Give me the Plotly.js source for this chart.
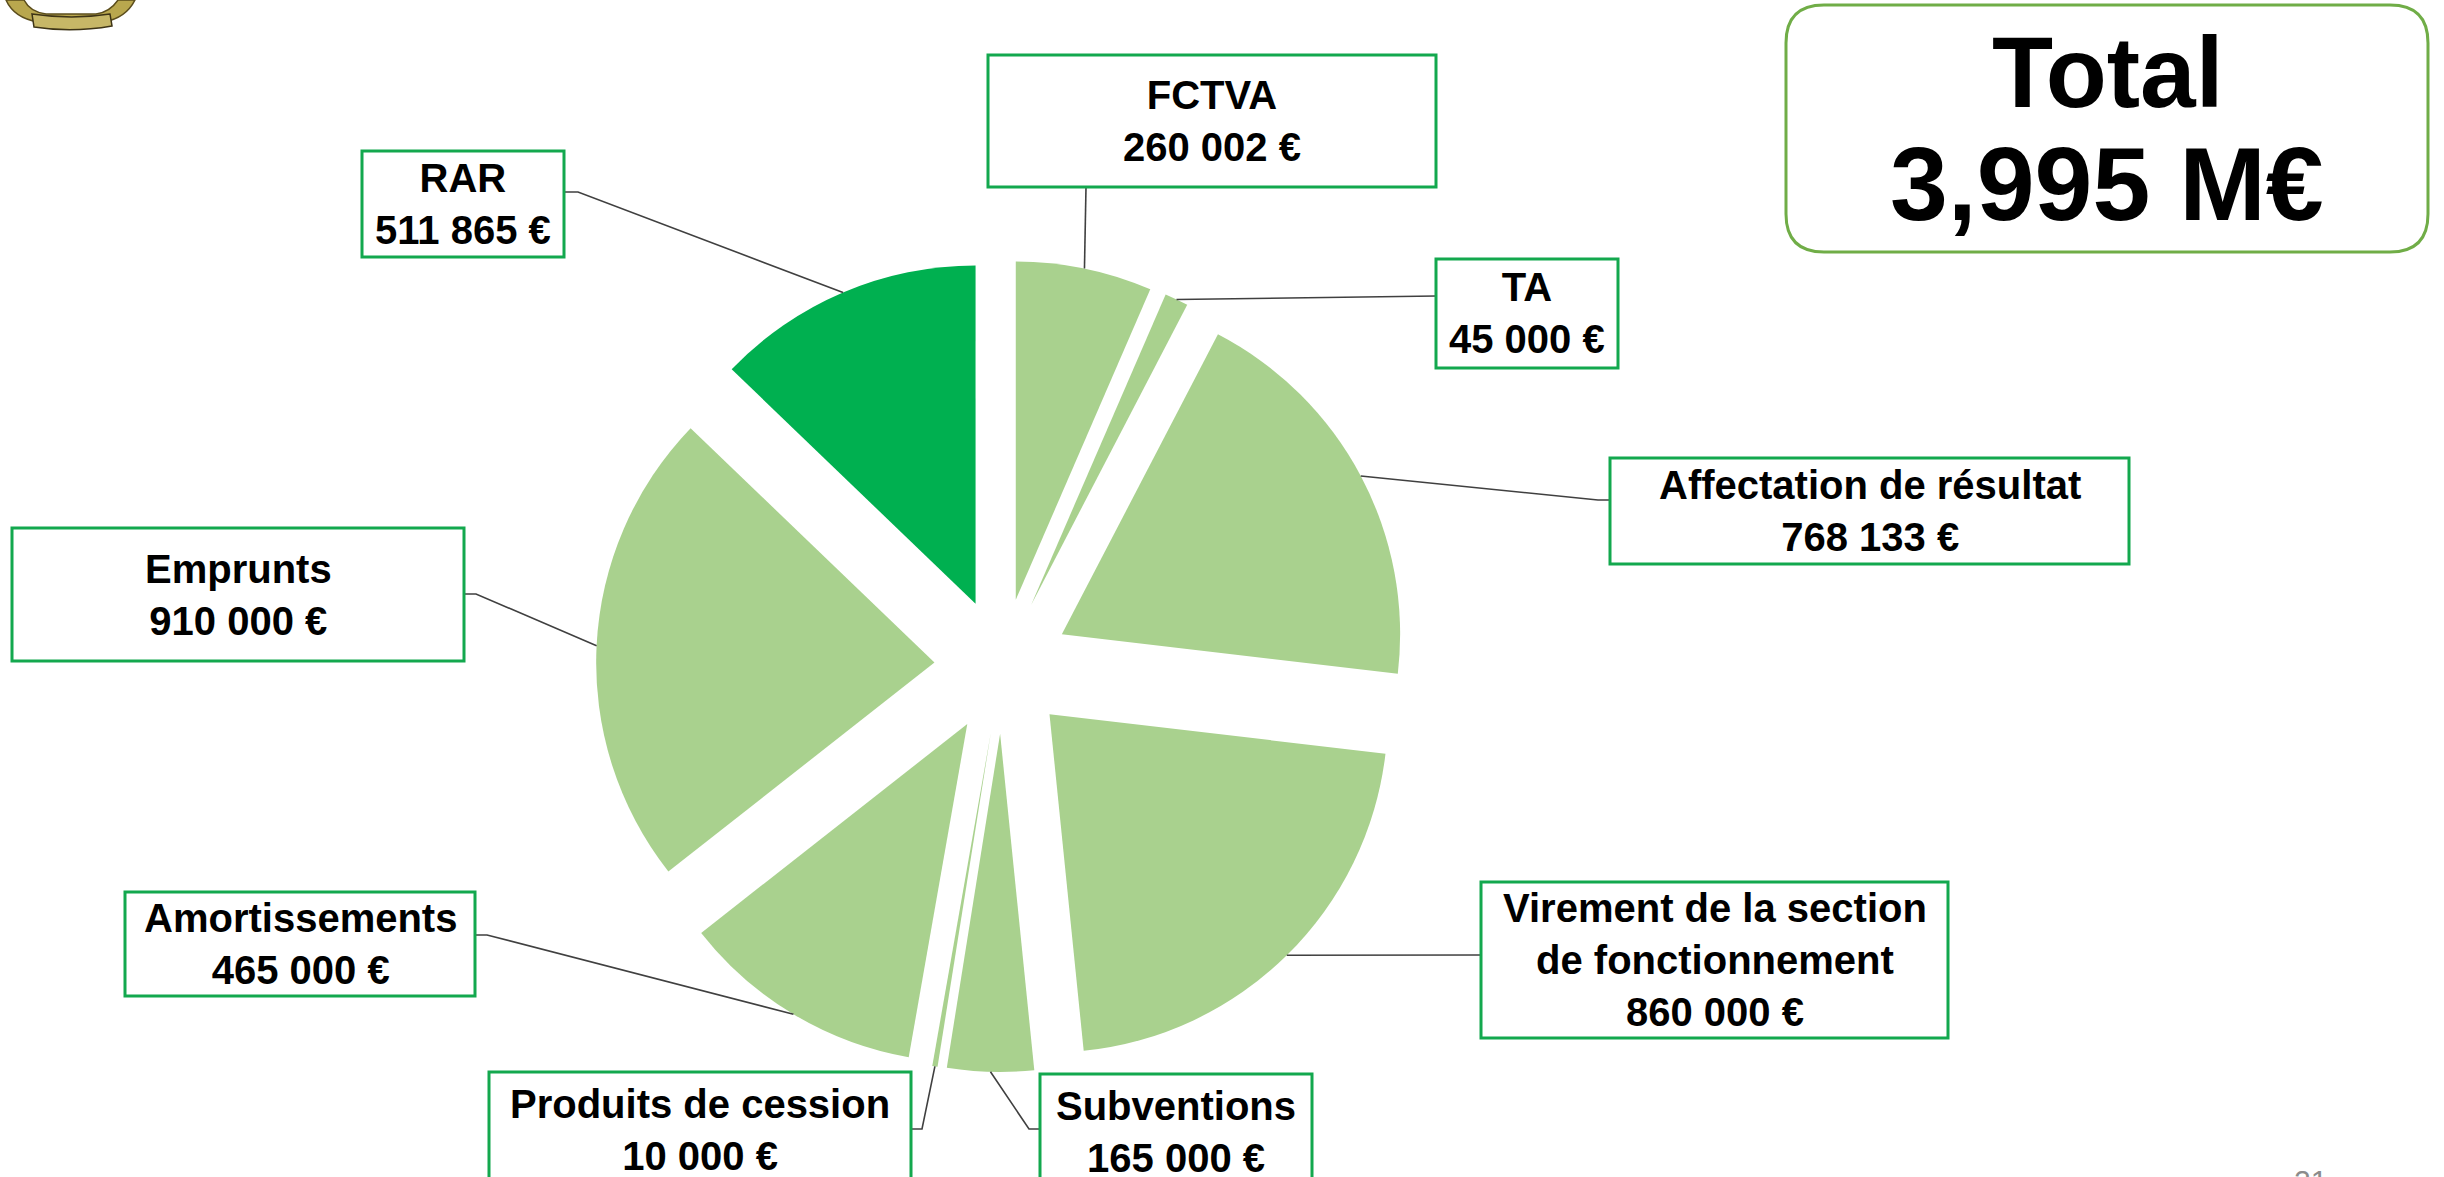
<!DOCTYPE html>
<html><head><meta charset="utf-8">
<script src="https://cdn.plot.ly/plotly-3.0.1.min.js"></script>
<style>html,body{margin:0;padding:0;background:#fff;overflow:hidden}#chart{width:2444px;height:1177px}</style>
</head><body><div id="chart"></div>
<script>
// ---------------- data ----------------
const labels = ['FCTVA', 'TA', 'Affectation de résultat', 'Virement de la section de fonctionnement',
  'Subventions', 'Produits de cession', 'Amortissements', 'Emprunts', 'RAR'];
const values = [260002, 45000, 768133, 860000, 165000, 10000, 465000, 910000, 511865];
const labelLines = [['FCTVA'], ['TA'], ['Affectation de résultat'], ['Virement de la section', 'de fonctionnement'],
  ['Subventions'], ['Produits de cession'], ['Amortissements'], ['Emprunts'], ['RAR']];
const totalTitle = 'Total';
const totalUnit = 'M€';
const pageNumber = '21';

// ---------------- layout / style ----------------
const W = 2444, H = 1177;
const pieDomain = {x: [0.2439, 0.5761], y: [0.0892, 0.7791]};
const pull = 0.2;
const sliceColors = ['#A9D18E', '#A9D18E', '#A9D18E', '#A9D18E', '#A9D18E', '#A9D18E', '#A9D18E', '#A9D18E', '#00B050'];
const FONT = 'Liberation Sans, Arial, sans-serif';
// label boxes in px: rect [x0,y0,x1,y1], anchor on box edge, optional stub point
const boxes = [
  {r: [988, 55, 1436, 187], a: [1086, 187], s: null},
  {r: [1436, 259, 1618, 368], a: [1436, 296], s: null},
  {r: [1610, 458, 2129, 564], a: [1610, 500], s: [1598, 500]},
  {r: [1481, 882, 1948, 1038], a: [1481, 955], s: null},
  {r: [1040, 1074, 1312, 1190], a: [1040, 1129], s: [1029, 1129]},
  {r: [489, 1072, 911, 1188], a: [911, 1129], s: [922, 1129]},
  {r: [125, 892, 475, 996], a: [475, 935], s: [487, 935]},
  {r: [12, 528, 464, 661], a: [464, 594], s: [476, 594]},
  {r: [362, 151, 564, 257], a: [564, 192], s: [578, 192]}
];
const totalBox = [1786, 5, 2428, 252];

const X = px => px / W;
const Y = py => 1 - py / H;
const fmt = v => String(v).replace(/\B(?=(\d{3})+(?!\d))/g, ' ') + ' €';
function pathPx(pts) { // pts: array of [cmd, x, y, ...]
  return pts.map(p => p[0] + ' ' + p.slice(1).map((v, i) => (i % 2 === 0 ? X(v) : Y(v)).toFixed(6)).join(' ')).join(' ');
}

// pie geometry as computed by plotly
const total = values.reduce((a, b) => a + b, 0);
const cx = W * (pieDomain.x[0] + pieDomain.x[1]) / 2;
const cy = H * (1 - (pieDomain.y[0] + pieDomain.y[1]) / 2);
const r = Math.min(W * (pieDomain.x[1] - pieDomain.x[0]), H * (pieDomain.y[1] - pieDomain.y[0])) / 2 / (1 + pull);

const shapes = [];
const annotations = [];
let cum = 0;
values.forEach((v, i) => {
  const mid = (cum + v / 2) / total * 2 * Math.PI;
  cum += v;
  const ex = cx + r * (1 + pull) * Math.sin(mid);
  const ey = cy - r * (1 + pull) * Math.cos(mid);
  const b = boxes[i];
  const pts = [['M', b.a[0], b.a[1]]];
  if (b.s) pts.push(['L', b.s[0], b.s[1]]);
  pts.push(['L', ex, ey]);
  shapes.push({type: 'path', xref: 'paper', yref: 'paper', path: pathPx(pts), line: {color: '#404040', width: 1.6}});
  shapes.push({type: 'rect', xref: 'paper', yref: 'paper', x0: X(b.r[0]), x1: X(b.r[2]), y0: Y(b.r[3]), y1: Y(b.r[1]),
    line: {color: '#13A84E', width: 3}, fillcolor: '#ffffff'});
  annotations.push({xref: 'paper', yref: 'paper', x: X((b.r[0] + b.r[2]) / 2), y: Y((b.r[1] + b.r[3]) / 2),
    xanchor: 'center', yanchor: 'middle', showarrow: false,
    text: labelLines[i].concat([fmt(v)]).join('<br>'),
    font: {family: FONT, size: 40, color: '#000', weight: 'bold'}});
});

// total box (rounded)
const [tx0, ty0, tx1, ty1] = totalBox, cr = 38;
shapes.push({type: 'path', xref: 'paper', yref: 'paper', line: {color: '#70AD47', width: 3}, fillcolor: '#ffffff',
  path: pathPx([['M', tx0 + cr, ty0], ['L', tx1 - cr, ty0], ['Q', tx1, ty0, tx1, ty0 + cr], ['L', tx1, ty1 - cr],
    ['Q', tx1, ty1, tx1 - cr, ty1], ['L', tx0 + cr, ty1], ['Q', tx0, ty1, tx0, ty1 - cr], ['L', tx0, ty0 + cr],
    ['Q', tx0, ty0, tx0 + cr, ty0]]) + ' Z'});
annotations.push({xref: 'paper', yref: 'paper', x: X((tx0 + tx1) / 2), y: Y(72), xanchor: 'center', yanchor: 'middle',
  showarrow: false, text: totalTitle, font: {family: FONT, size: 100, color: '#000', weight: 'bold'}});
annotations.push({xref: 'paper', yref: 'paper', x: X((tx0 + tx1) / 2), y: Y(184), xanchor: 'center', yanchor: 'middle',
  showarrow: false, text: (total / 1e6).toFixed(3).replace('.', ',') + ' ' + totalUnit,
  font: {family: FONT, size: 104, color: '#000', weight: 'bold'}});

// page number
annotations.push({xref: 'paper', yref: 'paper', x: X(2310), y: Y(1162), xanchor: 'center', yanchor: 'top',
  showarrow: false, text: pageNumber, font: {family: FONT, size: 30, color: '#8C8C8C'}});

// logo fragment (top-left crest)
shapes.push({type: 'path', xref: 'paper', yref: 'paper', fillcolor: '#B9A74E', line: {color: '#5B4D1C', width: 1.5},
  path: pathPx([['M', 6, 0], ['Q', 14, 18, 38, 22], ['L', 104, 22], ['Q', 126, 18, 135, 0], ['L', 118, 0],
    ['Q', 110, 12, 96, 14], ['L', 46, 14], ['Q', 30, 12, 24, 0]]) + ' Z'});
shapes.push({type: 'path', xref: 'paper', yref: 'paper', fillcolor: '#C7B767', line: {color: '#3E3416', width: 1.5},
  path: pathPx([['M', 32, 14], ['Q', 72, 20, 110, 14], ['L', 112, 26], ['Q', 72, 33, 34, 27]]) + ' Z'});

const data = [{
  type: 'pie', labels: labels, values: values, sort: false, direction: 'clockwise', rotation: 0,
  pull: values.map(() => pull), textinfo: 'none', hoverinfo: 'skip', showlegend: false,
  marker: {colors: sliceColors, line: {width: 0}}, domain: pieDomain
}];
const layout = {width: W, height: H, margin: {l: 0, r: 0, t: 0, b: 0}, paper_bgcolor: '#fff',
  showlegend: false, shapes: shapes, annotations: annotations};
Plotly.newPlot('chart', data, layout, {staticPlot: true, displayModeBar: false});
</script></body></html>
